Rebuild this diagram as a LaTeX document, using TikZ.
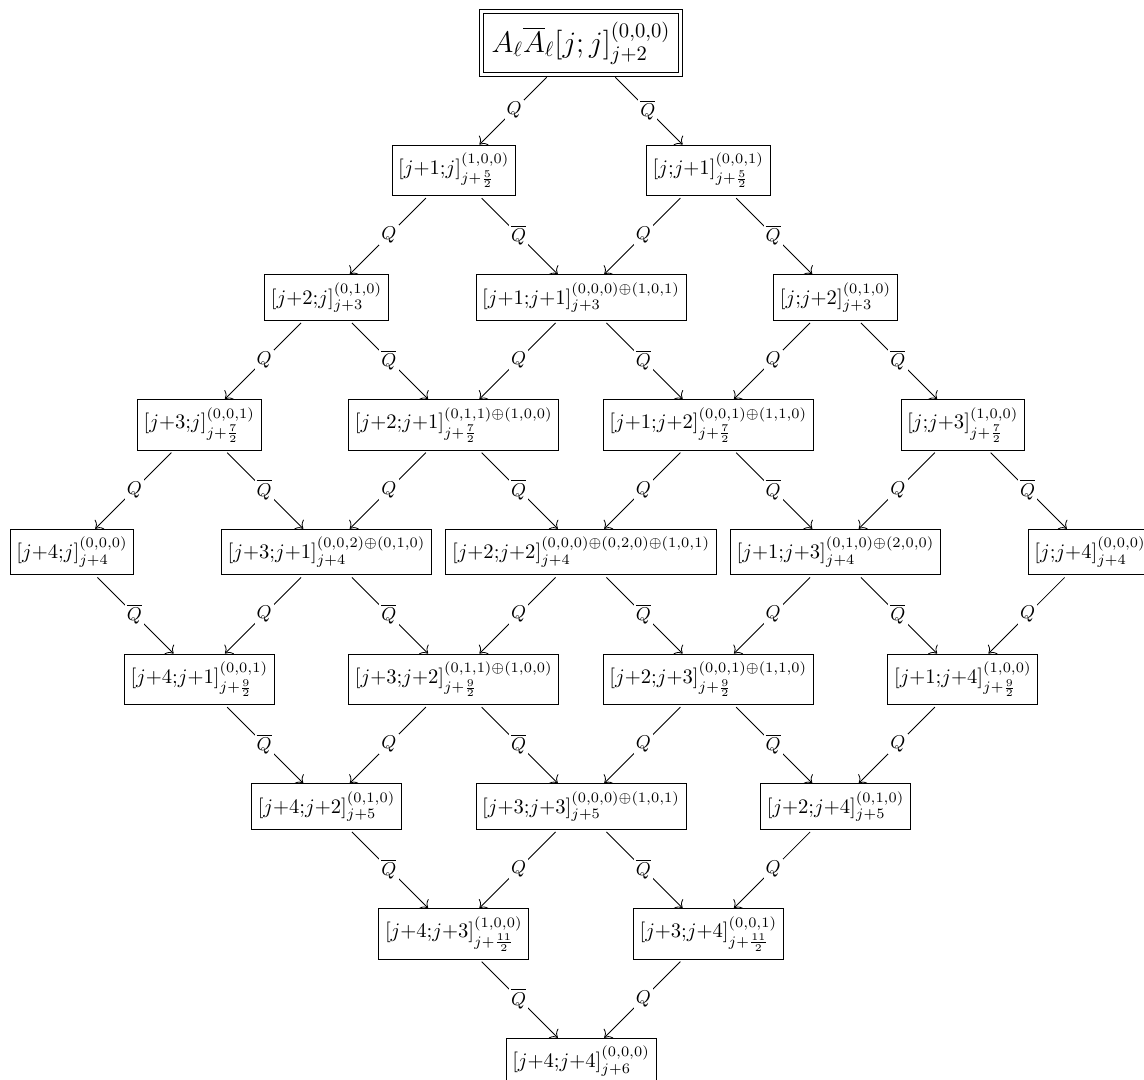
\documentclass[tikz,border=0pt]{standalone}
\usepackage{amsmath}
\usepackage{amssymb}
\usepackage{tikz}
\usetikzlibrary{arrows.meta}

\begin{document}
\begin{tikzpicture}[
    x=2.17cm, y=2.17cm,
    >={Computer Modern Rightarrow[scale=1.25]},
    box/.style={draw, inner xsep=3pt, inner ysep=3.8pt},
    topbox/.style={draw, double, double distance=1.6pt, inner xsep=5pt, inner ysep=5pt, font=\fontsize{14}{16}\selectfont},
    arrow/.style={->, shorten <=1.5pt},
    lbl/.style={fill=white, inner sep=1pt, font=\small},
]
\useasboundingbox (-4.566,-8.149) rectangle (4.424,0.338);
% level 0
\node[topbox] (p00) at (0,0) {$A_\ell\overline{A}_\ell[j;j]^{(0,0,0)}_{j+2}$};
% level 1
\node[box] (p10) at (-1,-1) {$[j{+}1{;}j]^{(1,0,0)}_{j+\frac52}$};
\node[box] (p01) at (1,-1) {$[j{;}j{+}1]^{(0,0,1)}_{j+\frac52}$};
% level 2
\node[box] (p20) at (-2,-2) {$[j{+}2{;}j]^{(0,1,0)}_{j+3}$};
\node[box] (p11) at (0,-2) {$[j{+}1{;}j{+}1]^{(0,0,0)\oplus(1,0,1)}_{j+3}$};
\node[box] (p02) at (2,-2) {$[j{;}j{+}2]^{(0,1,0)}_{j+3}$};
% level 3
\node[box] (p30) at (-3,-3) {$[j{+}3{;}j]^{(0,0,1)}_{j+\frac72}$};
\node[box] (p21) at (-1,-3) {$[j{+}2{;}j{+}1]^{(0,1,1)\oplus(1,0,0)}_{j+\frac72}$};
\node[box] (p12) at (1,-3) {$[j{+}1{;}j{+}2]^{(0,0,1)\oplus(1,1,0)}_{j+\frac72}$};
\node[box] (p03) at (3,-3) {$[j{;}j{+}3]^{(1,0,0)}_{j+\frac72}$};
% level 4
\node[box] (p40) at (-4,-4) {$[j{+}4{;}j]^{(0,0,0)}_{j+4}$};
\node[box] (p31) at (-2,-4) {$[j{+}3{;}j{+}1]^{(0,0,2)\oplus(0,1,0)}_{j+4}$};
\node[box] (p22) at (0,-4) {$[j{+}2{;}j{+}2]^{(0,0,0)\oplus(0,2,0)\oplus(1,0,1)}_{j+4}$};
\node[box] (p13) at (2,-4) {$[j{+}1{;}j{+}3]^{(0,1,0)\oplus(2,0,0)}_{j+4}$};
\node[box] (p04) at (4,-4) {$[j{;}j{+}4]^{(0,0,0)}_{j+4}$};
% level 5
\node[box] (p41) at (-3,-5) {$[j{+}4{;}j{+}1]^{(0,0,1)}_{j+\frac92}$};
\node[box] (p32) at (-1,-5) {$[j{+}3{;}j{+}2]^{(0,1,1)\oplus(1,0,0)}_{j+\frac92}$};
\node[box] (p23) at (1,-5) {$[j{+}2{;}j{+}3]^{(0,0,1)\oplus(1,1,0)}_{j+\frac92}$};
\node[box] (p14) at (3,-5) {$[j{+}1{;}j{+}4]^{(1,0,0)}_{j+\frac92}$};
% level 6
\node[box] (p42) at (-2,-6) {$[j{+}4{;}j{+}2]^{(0,1,0)}_{j+5}$};
\node[box] (p33) at (0,-6) {$[j{+}3{;}j{+}3]^{(0,0,0)\oplus(1,0,1)}_{j+5}$};
\node[box] (p24) at (2,-6) {$[j{+}2{;}j{+}4]^{(0,1,0)}_{j+5}$};
% level 7
\node[box] (p43) at (-1,-7) {$[j{+}4{;}j{+}3]^{(1,0,0)}_{j+\frac{11}{2}}$};
\node[box] (p34) at (1,-7) {$[j{+}3{;}j{+}4]^{(0,0,1)}_{j+\frac{11}{2}}$};
% level 8
\node[box] (p44) at (0,-8) {$[j{+}4{;}j{+}4]^{(0,0,0)}_{j+6}$};
% Q raises the first index
\draw[arrow] (p00) -- node[lbl] {$Q$} (p10);
\draw[arrow] (p01) -- node[lbl] {$Q$} (p11);
\draw[arrow] (p10) -- node[lbl] {$Q$} (p20);
\draw[arrow] (p02) -- node[lbl] {$Q$} (p12);
\draw[arrow] (p11) -- node[lbl] {$Q$} (p21);
\draw[arrow] (p20) -- node[lbl] {$Q$} (p30);
\draw[arrow] (p03) -- node[lbl] {$Q$} (p13);
\draw[arrow] (p12) -- node[lbl] {$Q$} (p22);
\draw[arrow] (p21) -- node[lbl] {$Q$} (p31);
\draw[arrow] (p30) -- node[lbl] {$Q$} (p40);
\draw[arrow] (p04) -- node[lbl] {$Q$} (p14);
\draw[arrow] (p13) -- node[lbl] {$Q$} (p23);
\draw[arrow] (p22) -- node[lbl] {$Q$} (p32);
\draw[arrow] (p31) -- node[lbl] {$Q$} (p41);
\draw[arrow] (p14) -- node[lbl] {$Q$} (p24);
\draw[arrow] (p23) -- node[lbl] {$Q$} (p33);
\draw[arrow] (p32) -- node[lbl] {$Q$} (p42);
\draw[arrow] (p24) -- node[lbl] {$Q$} (p34);
\draw[arrow] (p33) -- node[lbl] {$Q$} (p43);
\draw[arrow] (p34) -- node[lbl] {$Q$} (p44);
% Qbar raises the second index
\draw[arrow] (p00) -- node[lbl] {$\overline{Q}$} (p01);
\draw[arrow] (p10) -- node[lbl] {$\overline{Q}$} (p11);
\draw[arrow] (p01) -- node[lbl] {$\overline{Q}$} (p02);
\draw[arrow] (p20) -- node[lbl] {$\overline{Q}$} (p21);
\draw[arrow] (p11) -- node[lbl] {$\overline{Q}$} (p12);
\draw[arrow] (p02) -- node[lbl] {$\overline{Q}$} (p03);
\draw[arrow] (p30) -- node[lbl] {$\overline{Q}$} (p31);
\draw[arrow] (p21) -- node[lbl] {$\overline{Q}$} (p22);
\draw[arrow] (p12) -- node[lbl] {$\overline{Q}$} (p13);
\draw[arrow] (p03) -- node[lbl] {$\overline{Q}$} (p04);
\draw[arrow] (p40) -- node[lbl] {$\overline{Q}$} (p41);
\draw[arrow] (p31) -- node[lbl] {$\overline{Q}$} (p32);
\draw[arrow] (p22) -- node[lbl] {$\overline{Q}$} (p23);
\draw[arrow] (p13) -- node[lbl] {$\overline{Q}$} (p14);
\draw[arrow] (p41) -- node[lbl] {$\overline{Q}$} (p42);
\draw[arrow] (p32) -- node[lbl] {$\overline{Q}$} (p33);
\draw[arrow] (p23) -- node[lbl] {$\overline{Q}$} (p24);
\draw[arrow] (p42) -- node[lbl] {$\overline{Q}$} (p43);
\draw[arrow] (p33) -- node[lbl] {$\overline{Q}$} (p34);
\draw[arrow] (p43) -- node[lbl] {$\overline{Q}$} (p44);
\end{tikzpicture}
\end{document}
